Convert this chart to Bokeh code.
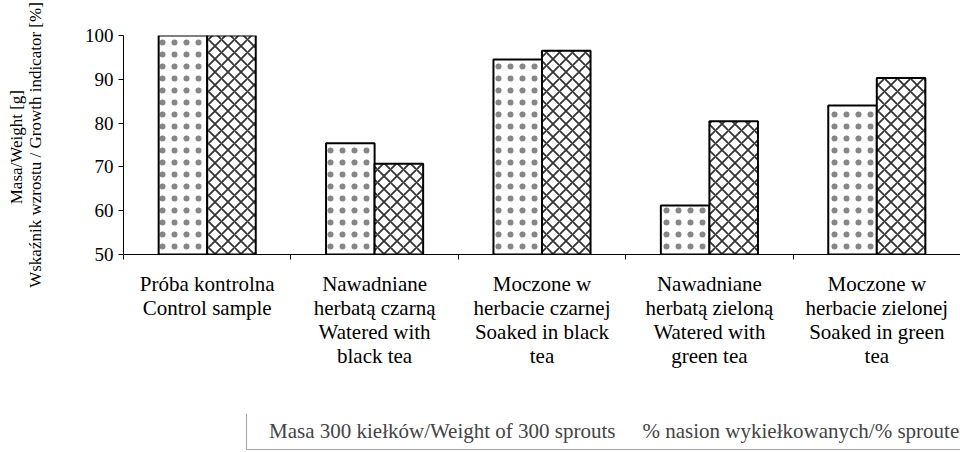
from bokeh.plotting import figure
from bokeh.layouts import column
from bokeh.models import (Range1d, LinearAxis, FixedTicker, Legend, LegendItem, ColumnDataSource)
from bokeh.transform import dodge
from bokeh.embed import file_html
from bokeh.resources import INLINE

categories = [
    "Próba kontrolna\nControl sample",
    "Nawadniane\nherbatą czarną\nWatered with\nblack tea",
    "Moczone w\nherbacie czarnej\nSoaked in black\ntea",
    "Nawadniane\nherbatą zieloną\nWatered with\ngreen tea",
    "Moczone w\nherbacie zielonej\nSoaked in green\ntea",
]
masa = [100, 75.4, 94.5, 61.2, 84.0]
nasiona = [100, 70.7, 96.5, 80.4, 90.3]
y_ticks = [50, 60, 70, 80, 90, 100]
series_names = ["Masa 300 kiełków/Weight of 300 sprouts",
                "% nasion wykiełkowanych/% sprouted seeds"]
y_label = "Masa/Weight  [g]\nWskaźnik wzrostu / Growth indicator [%]"

FONT = "'Liberation Serif', 'Times New Roman', serif"
n = len(categories)
centers = [i + 0.5 for i in range(n)]
bounds = list(range(n + 1))

src = ColumnDataSource(dict(xc=centers, masa=masa, nasiona=nasiona))

p = figure(x_range=Range1d(0, n), y_range=Range1d(50, 100),
           frame_width=837, frame_height=219,
           min_border_left=123, min_border_right=0, min_border_top=35, min_border_bottom=160,
           x_axis_location=None, output_backend="svg", toolbar_location=None)
p.outline_line_color = None
p.background_fill_color = "white"
p.border_fill_color = "white"

xt = LinearAxis(ticker=FixedTicker(ticks=bounds),
                major_label_overrides={b: "" for b in bounds},
                major_label_text_font_size="1px", major_label_standoff=0,
                major_tick_out=5, major_tick_in=0, minor_tick_out=0, minor_tick_in=0,
                axis_line_color="black", major_tick_line_color="black")
p.add_layout(xt, "below")
xl = LinearAxis(ticker=FixedTicker(ticks=centers),
                major_label_overrides={c: lab for c, lab in zip(centers, categories)},
                major_tick_line_color=None, minor_tick_line_color=None, axis_line_color=None,
                major_label_text_font=FONT, major_label_text_font_size="21px",
                major_label_text_line_height=1.0, major_label_standoff=6,
                major_label_text_color="black")
p.add_layout(xl, "below")

p.xgrid.visible = False
p.ygrid.ticker = FixedTicker(ticks=[100])
p.ygrid.grid_line_color = "#8c8c8c"
p.ygrid.grid_line_width = 2

ya = p.yaxis[0]
ya.ticker = FixedTicker(ticks=y_ticks)
ya.major_tick_out = 5
ya.major_tick_in = 0
ya.minor_tick_line_color = None
ya.axis_line_color = "black"
ya.major_tick_line_color = "black"
ya.major_label_text_font = FONT
ya.major_label_text_font_size = "19px"
ya.major_label_text_color = "black"
ya.major_label_standoff = 5
ya.axis_label = y_label
ya.axis_label_text_font = FONT
ya.axis_label_text_font_size = "17px"
ya.axis_label_text_font_style = "normal"
ya.axis_label_text_color = "black"
ya.axis_label_text_line_height = 1.0
ya.axis_label_standoff = 37

DOT_STYLE = dict(fill_color="white", line_color="black", line_width=2,
                 hatch_pattern="dot", hatch_color="#222222", hatch_alpha=0.55,
                 hatch_scale=12, hatch_weight=1)
CROSS_STYLE = dict(fill_color="white", line_color="black", line_width=2,
                   hatch_pattern="diagonal_cross", hatch_color="#333333",
                   hatch_scale=13, hatch_weight=1.8)

p.vbar(x=dodge("xc", -0.145), top="masa", bottom=50, width=0.29, source=src, **DOT_STYLE)
p.vbar(x=dodge("xc", 0.145), top="nasiona", bottom=50, width=0.29, source=src, **CROSS_STYLE)

# separate strip holding the legend, placed under the chart
lf = figure(width=960, height=36, x_range=Range1d(0, 1), y_range=Range1d(0, 1),
            min_border_left=0, min_border_right=0, min_border_top=0, min_border_bottom=0,
            x_axis_location=None, y_axis_location=None,
            output_backend="svg", toolbar_location=None)
lf.outline_line_color = None
lf.background_fill_color = "white"
lf.border_fill_color = "white"
lf.xgrid.visible = False
lf.ygrid.visible = False
empty = ColumnDataSource(dict(x=[], top=[]))
l1 = lf.vbar(x="x", top="top", width=0.1, source=empty, **DOT_STYLE)
l2 = lf.vbar(x="x", top="top", width=0.1, source=empty, **CROSS_STYLE)

legend = Legend(items=[LegendItem(label=series_names[0], renderers=[l1]),
                       LegendItem(label=series_names[1], renderers=[l2])],
                location=(123, 0), orientation="horizontal",
                label_text_font=FONT, label_text_font_size="21px",
                glyph_width=10, glyph_height=10, label_standoff=7, spacing=10,
                padding=5, margin=0, border_line_color="#444444", border_line_width=1,
                background_fill_color="white", background_fill_alpha=1)
lf.add_layout(legend, "center")

layout = column(p, lf, spacing=0)
open("out.html", "w").write(file_html(layout, INLINE))
